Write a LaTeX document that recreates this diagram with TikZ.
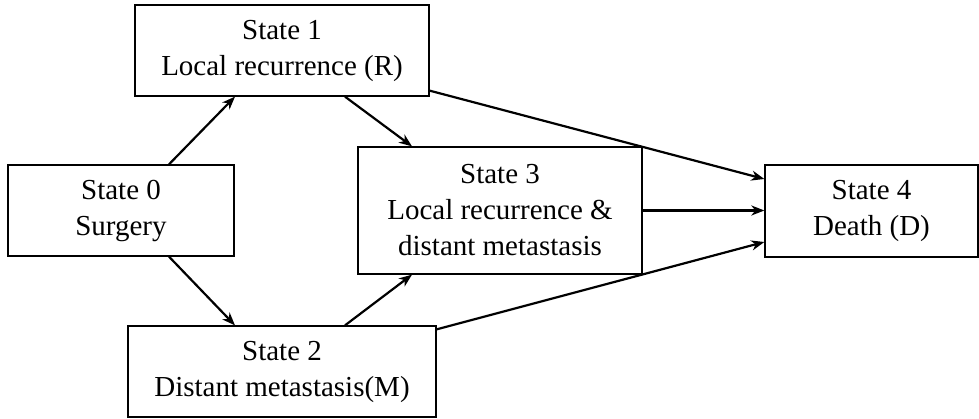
\documentclass[tikz,border=0pt]{standalone}
\usepackage{fontspec}
\setmainfont{Liberation Serif}
\usetikzlibrary{arrows.meta,calc}

\tikzset{
  statebox/.style={draw, line width=1.3pt, inner sep=0pt, align=center,
    font=\fontsize{29}{36}\selectfont},
  trans/.style={line width=2.2pt, -{Stealth[length=13pt,width=10pt,inset=4pt]}}
}

\begin{document}
\begin{tikzpicture}[x=1pt,y=1pt]
  \useasboundingbox (0,-419) rectangle (979,0);

  % states of the multi-state model
  \node[statebox, minimum width=226pt, minimum height=91pt] (s0) at (121,-210.5) {State 0\\Surgery};
  \node[statebox, minimum width=294pt, minimum height=91pt] (s1) at (282,-50.5) {State 1\\Local recurrence (R)};
  \node[statebox, minimum width=308pt, minimum height=91pt] (s2) at (282,-371.5) {State 2\\Distant metastasis(M)};
  \node[statebox, minimum width=284pt, minimum height=127pt] (s3) at (500,-210.5) {State 3\\Local recurrence \&\\distant metastasis};
  \node[statebox, minimum width=213pt, minimum height=92pt] (s4) at (871.5,-211) {State 4\\Death (D)};

  % transitions
  \draw[trans] ([xshift=48pt]s0.north) -- ([xshift=-47pt]s1.south);
  \draw[trans] ([xshift=48pt]s0.south) -- ([xshift=-47pt]s2.north);
  \draw[trans] ([xshift=63pt]s1.south) -- ([xshift=-88pt]s3.north);
  \draw[trans] ([xshift=63pt]s2.north) -- ([xshift=-88pt]s3.south);
  \draw[trans] ([yshift=6pt]s1.south east) -- ([yshift=32pt]s4.west);
  \draw[trans] (s3.east) -- (s3.east -| s4.west);
  \draw[trans] ([yshift=-4pt]s2.north east) -- ([yshift=-31pt]s4.west);
\end{tikzpicture}
\end{document}
